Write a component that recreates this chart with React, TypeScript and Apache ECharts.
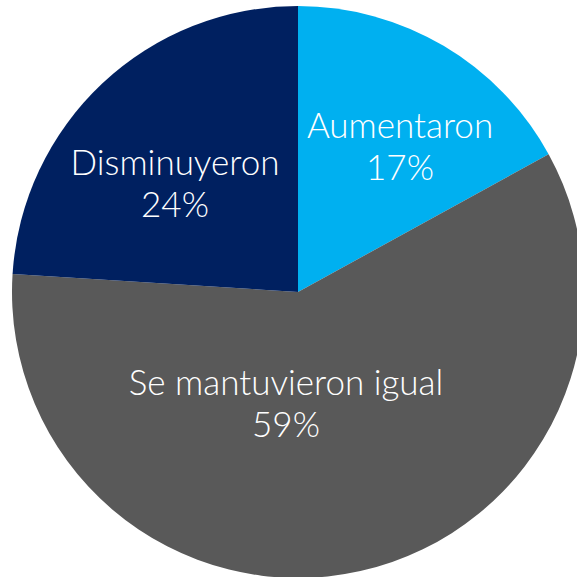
import React, { useEffect, useRef } from "react";
import * as echarts from "echarts";

const categories = ["Aumentaron", "Se mantuvieron igual", "Disminuyeron"];
const values = [17, 59, 24];
const colors = ["#00B0F0", "#595959", "#002060"];
const labelPos: [number, number][] = [
  [400, 145],
  [286, 402],
  [175, 182],
];

export default function App() {
  const ref = useRef<HTMLDivElement>(null);
  useEffect(() => {
    document.body.style.margin = "0";
    const chart = echarts.init(ref.current!, null, { renderer: "svg" });
    chart.setOption({
      animation: false,
      series: [
        {
          type: "pie",
          center: [298, 292],
          radius: 286,
          startAngle: 90,
          clockwise: true,
          silent: true,
          data: categories.map((c, i) => ({
            name: c,
            value: values[i],
            itemStyle: { color: colors[i] },
          })),
          label: {
            show: true,
            position: "inside",
            formatter: "{b}\n{d}%",
            color: "#ffffff",
            fontFamily: "Lato",
            fontWeight: 300,
            fontSize: 35,
            lineHeight: 42,
            align: "center",
          },
          labelLine: { show: false },
          labelLayout: (p: any) => ({
            x: labelPos[p.dataIndex][0],
            y: labelPos[p.dataIndex][1],
            align: "center",
            verticalAlign: "middle",
          }),
        },
      ],
    });
    return () => chart.dispose();
  }, []);
  return <div ref={ref} style={{ width: 577, height: 577 }} />;
}
